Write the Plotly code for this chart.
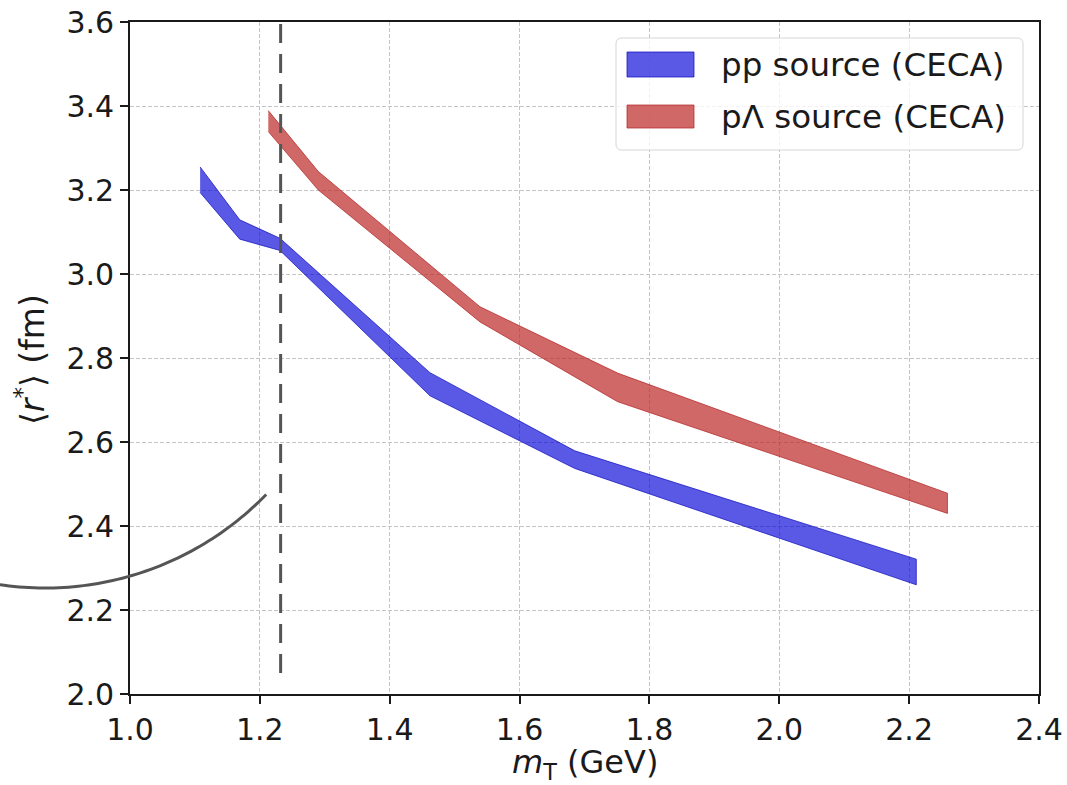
import numpy as np
import plotly.graph_objects as go

# ---- data -------------------------------------------------------------
series_names = ["pp source (CECA)", "p\u039b source (CECA)"]

# pp source: mT (GeV) and upper / lower edges of <r*> band (fm)
pp_mt = [1.108, 1.169, 1.231, 1.462, 1.685, 2.211]
pp_hi = [3.255, 3.129, 3.085, 2.765, 2.579, 2.321]
pp_lo = [3.194, 3.083, 3.056, 2.710, 2.537, 2.260]

# pLambda source
pl_mt = [1.213, 1.290, 1.539, 1.751, 2.259]
pl_hi = [3.389, 3.244, 2.922, 2.764, 2.478]
pl_lo = [3.339, 3.200, 2.886, 2.696, 2.430]

mt_cut = 1.232  # vertical reference line (GeV)

x_ticks = [1.0, 1.2, 1.4, 1.6, 1.8, 2.0, 2.2, 2.4]
y_ticks = [2.0, 2.2, 2.4, 2.6, 2.8, 3.0, 3.2, 3.4, 3.6]

x_title = "<i>m</i><sub>T</sub> (GeV)"
y_title = "\u27e8<i>r</i><sup>*</sup>\u27e9 (fm)"

# ---- styling ----------------------------------------------------------
W, H = 1067, 785
ML, MR, MT, MB = 130, 28, 22, 91
PW, PH = W - ML - MR, H - MT - MB
XR = [1.0, 2.4]
YR = [2.0, 3.6]
FONT = "DejaVu Sans"
INK = "#1a1a1a"

fills = ["rgba(0,0,215,0.65)", "rgba(190,40,40,0.70)"]
edges = ["rgba(20,20,190,0.75)", "rgba(180,40,40,0.75)"]


def px_to_paper(px, py):
    return (px - ML) / PW, (H - MB - py) / PH


def data_to_paper(x, y):
    return (x - XR[0]) / (XR[1] - XR[0]), (y - YR[0]) / (YR[1] - YR[0])


fig = go.Figure()

for mt, hi, lo, fc, ec, name in [
    (pp_mt, pp_hi, pp_lo, fills[0], edges[0], series_names[0]),
    (pl_mt, pl_hi, pl_lo, fills[1], edges[1], series_names[1]),
]:
    xs = list(mt) + list(mt)[::-1]
    ys = list(hi) + list(lo)[::-1]
    fig.add_trace(go.Scatter(
        x=xs, y=ys, mode="lines", fill="toself", fillcolor=fc,
        line=dict(color=ec, width=1), name=name, showlegend=False,
        hoverinfo="skip",
    ))

shapes = []

# dashed vertical marker
shapes.append(dict(
    type="line", xref="x", yref="y", x0=mt_cut, x1=mt_cut, y0=3.595, y1=2.025,
    line=dict(color="#555555", width=3, dash="19px,11px"), layer="above",
))

# curved pointer stroke (elliptical arc in data units, drawn in paper units)
cx, cy, rx, ry = 0.869, 2.988, 0.4754, 0.7357
th = np.radians(np.linspace(-8.5, 45.8, 60))
pts = [data_to_paper(cx + rx * np.sin(t), cy - ry * np.cos(t)) for t in th]
path = "M " + " L ".join(f"{a:.5f},{b:.5f}" for a, b in pts)
shapes.append(dict(type="path", xref="paper", yref="paper", path=path,
                   line=dict(color="#555555", width=3), layer="above"))

# legend frame (rounded)
lx0, ly0, lx1, ly1, r = 616, 38, 1023, 150, 6
def P(px, py):
    a, b = px_to_paper(px, py)
    return f"{a:.5f},{b:.5f}"
frame = (f"M {P(lx0 + r, ly0)} L {P(lx1 - r, ly0)} Q {P(lx1, ly0)} {P(lx1, ly0 + r)} "
         f"L {P(lx1, ly1 - r)} Q {P(lx1, ly1)} {P(lx1 - r, ly1)} "
         f"L {P(lx0 + r, ly1)} Q {P(lx0, ly1)} {P(lx0, ly1 - r)} "
         f"L {P(lx0, ly0 + r)} Q {P(lx0, ly0)} {P(lx0 + r, ly0)} Z")
shapes.append(dict(type="path", xref="paper", yref="paper", path=frame,
                   fillcolor="rgba(255,255,255,0.8)",
                   line=dict(color="#d6d6d6", width=1), layer="above"))

annotations = []
patch_rows = [(52, 77), (105, 128)]
for (py0, py1), fc, ec, name in zip(patch_rows, fills, edges, series_names):
    a0, b0 = px_to_paper(627, py1)
    a1, b1 = px_to_paper(694, py0)
    shapes.append(dict(type="rect", xref="paper", yref="paper",
                       x0=a0, x1=a1, y0=b0, y1=b1, fillcolor=fc,
                       line=dict(color=ec, width=1), layer="above"))
    tx, ty = px_to_paper(719, (py0 + py1) / 2)
    annotations.append(dict(xref="paper", yref="paper", x=tx, y=ty,
                            xanchor="left", yanchor="middle", showarrow=False,
                            text=name, font=dict(family=FONT, size=32.5, color=INK)))

# axis titles
_, ty = px_to_paper(0, 764)
annotations.append(dict(xref="paper", yref="paper", x=0.5, y=ty,
                        xanchor="center", yanchor="middle", showarrow=False,
                        text=x_title, font=dict(family=FONT, size=32, color=INK)))
tx, _ = px_to_paper(30, 0)
annotations.append(dict(xref="paper", yref="paper", x=tx, y=0.497,
                        xanchor="center", yanchor="middle", showarrow=False,
                        textangle=-90, text=y_title,
                        font=dict(family=FONT, size=33, color=INK)))

axis_common = dict(
    showline=True, linecolor=INK, linewidth=1.6, mirror=True,
    ticks="outside", ticklen=8, tickwidth=1.5, tickcolor=INK,
    showgrid=True, gridcolor="#c4c4c4", gridwidth=1, griddash="4px,2px",
    zeroline=False, tickformat=".1f",
    tickfont=dict(family=FONT, size=30, color=INK),
)

fig.update_layout(
    width=W, height=H,
    margin=dict(l=ML, r=MR, t=MT, b=MB, autoexpand=False),
    paper_bgcolor="white", plot_bgcolor="white",
    font=dict(family=FONT, color=INK),
    showlegend=False,
    xaxis=dict(range=XR, tickvals=x_ticks, automargin=False, **axis_common),
    yaxis=dict(range=YR, tickvals=y_ticks, automargin=False, **axis_common),
    shapes=shapes,
    annotations=annotations,
)

fig.write_html("out.html")
